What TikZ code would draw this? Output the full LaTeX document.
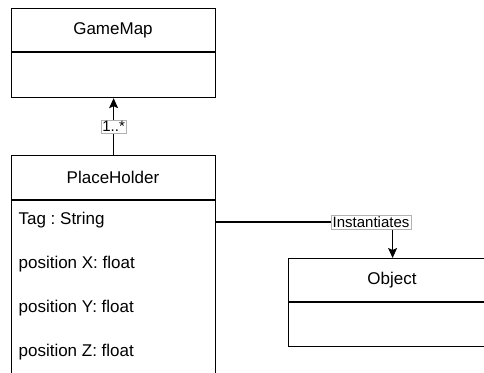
\documentclass[tikz,border=0pt]{standalone}
\usepackage{fontspec}
\setmainfont{Liberation Sans}
\usetikzlibrary{arrows.meta}
\frenchspacing
\begin{document}
\begin{tikzpicture}[x=1pt,y=-1pt,
  line width=1.2pt,
  classbox/.style={draw, rectangle, anchor=north west, inner sep=0pt, minimum width=#1},
  title/.style={font=\fontsize{17}{20}\selectfont, inner sep=0pt},
  attr/.style={font=\fontsize{17}{20}\selectfont, inner sep=0pt, anchor=west},
  lbl/.style={font=\fontsize{15}{17}\selectfont, fill=white, draw=gray!60, line width=0.6pt, inner sep=1.5pt},
  arr/.style={-{Stealth[length=10pt,width=9pt,inset=2pt]}}
]
\useasboundingbox (0,0) rectangle (484,372);
\clip (0,0) rectangle (484,372);
% GameMap
\node[classbox=204pt, minimum height=89pt] (gm) at (11,8) {};
\draw (11,52) -- (215,52);
\node[title] (gmt) at (113,30) {GameMap};
% PlaceHolder
\node[classbox=204pt, minimum height=260pt] (ph) at (11,155) {};
\draw (11,200) -- (215,200);
\node[title] (pht) at (113,177.5) {PlaceHolder};
\node[attr] (a1) at (18,220) {Tag : String};
\node[attr] (a2) at (18,264) {position X: float};
\node[attr] (a3) at (18,308) {position Y: float};
\node[attr] (a4) at (18,352) {position Z: float};
% Object
\node[classbox=208pt, minimum height=88pt] (obj) at (288,258) {};
\draw (288,302) -- (496,302);
\node[title] (objt) at (392,280) {Object};
% connectors
\draw[arr] (ph.north) -- (gm.south) node[lbl, pos=0.5] (m1) {1..*};
\coordinate (phr) at (215,222);
\draw[arr] (phr) -| (obj.north);
\node[lbl] (inst) at (371,222.5) {Instantiates};
\end{tikzpicture}
\end{document}
